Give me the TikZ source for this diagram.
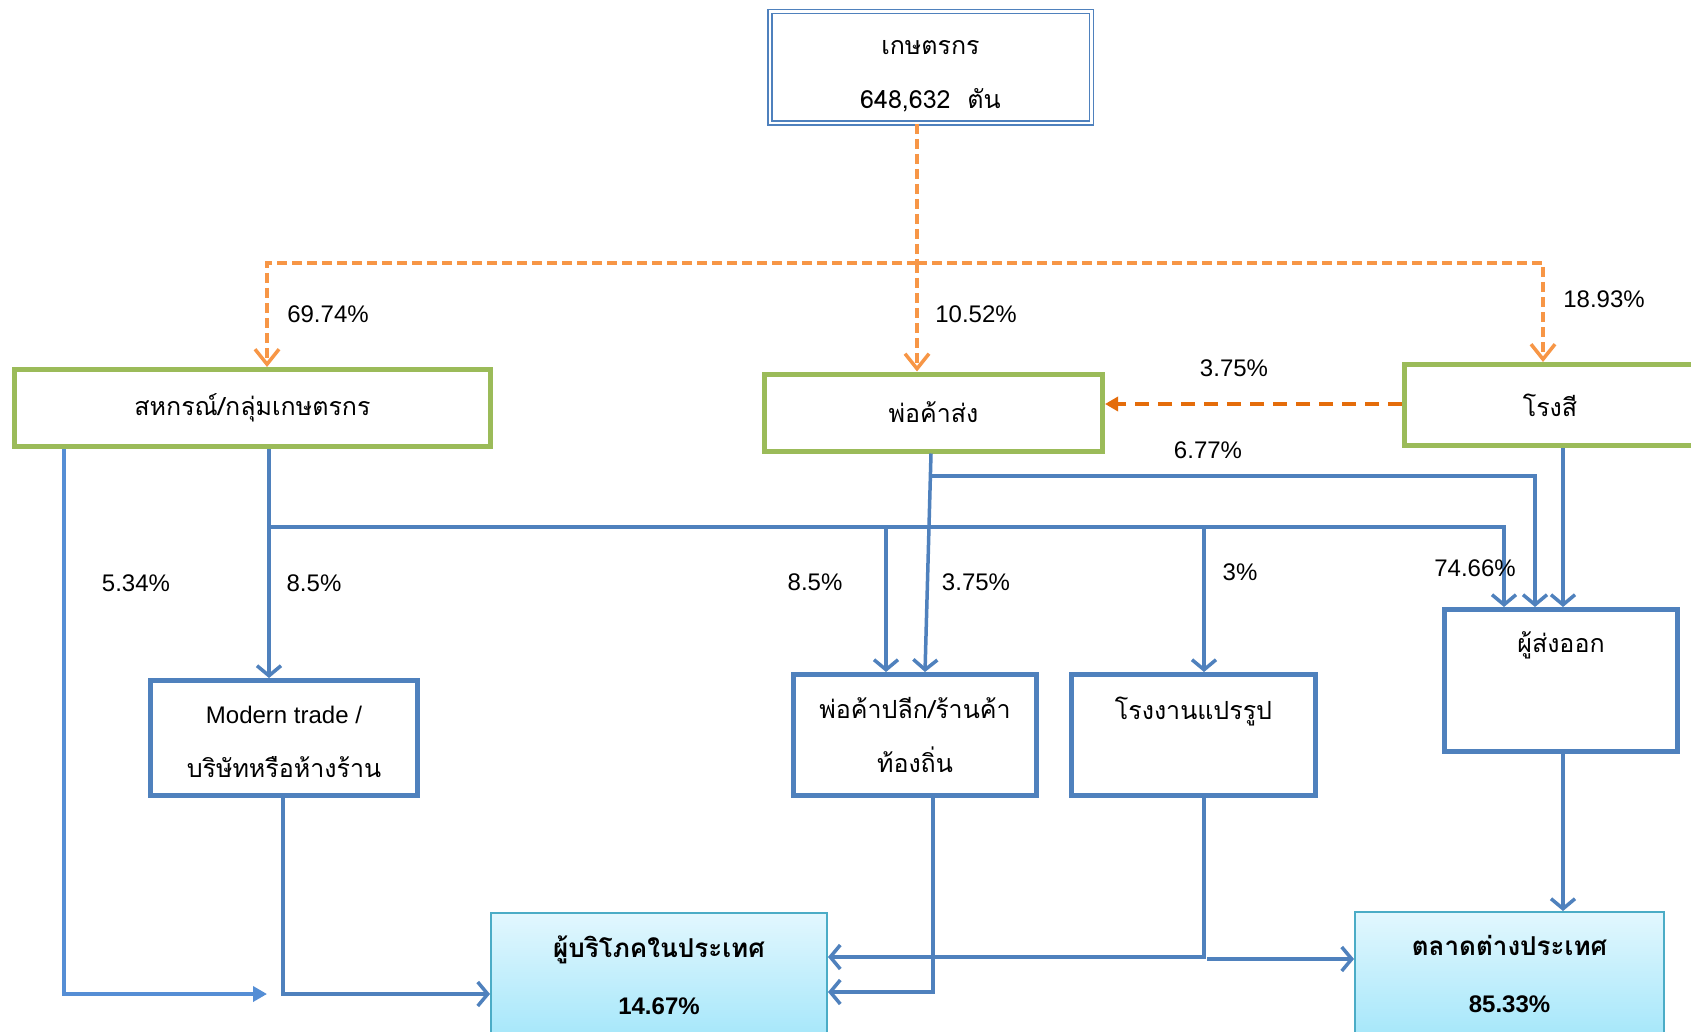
\documentclass[tikz,border=0pt]{standalone}
\usepackage{fontspec}
\setmainfont{Liberation Sans}
\newfontfamily\thai[Script=Thai]{Loma}
\usetikzlibrary{arrows.meta}
\definecolor{gbox}{HTML}{9BBB59}
\definecolor{bbox}{HTML}{4F81BD}
\definecolor{lblue}{HTML}{558ED5}
\definecolor{orl}{HTML}{F79646}
\definecolor{ord}{HTML}{E46C0A}
\definecolor{cyb}{HTML}{4BACC6}
\definecolor{cyt}{HTML}{E2F7FE}
\definecolor{cyd}{HTML}{A6E7FA}
\begin{document}
\begin{tikzpicture}[x=1pt,y=-1pt,
  thaitxt/.style={font=\thai\fontsize{25}{54}\selectfont, align=center, inner sep=0pt},
  greenbox/.style={draw=gbox, line width=5pt, fill=white, thaitxt},
  bluebox/.style={draw=bbox, line width=5pt, fill=white, thaitxt},
  endbox/.style={draw=cyb, line width=2pt, top color=cyt, bottom color=cyd, align=center, inner sep=0pt,
     font=\bfseries\fontsize{24}{57}\selectfont},
  pct/.style={font=\fontsize{24}{28}\selectfont, inner sep=0pt},
  odash/.style={draw=orl, line width=4pt, dash pattern=on 10pt off 5pt},
  oarrow/.style={-{Straight Barb[length=15pt,width=24pt,line width=3.5pt]}},
  flow/.style={draw=bbox, line width=3.5pt},
  barb/.style={-{Straight Barb[length=10pt,width=24pt]}}
]
\clip (0,0) rectangle (1691,1032);
\fill[white] (0,0) rectangle (1691,1032);

% nodes
\node[draw=bbox, line width=1.5pt, double, double distance=2.5pt, fill=white,
      minimum width=321.5pt, minimum height=111.5pt,
      label={[thaitxt, yshift=-9pt]center:เกษตรกร\\648,632\ \ ตัน}] (farmer) at (930.5,67.5) {};
\node[greenbox, minimum width=476pt, minimum height=77pt] (coop) at (252.5,408) {สหกรณ์/กลุ่มเกษตรกร};
\node[greenbox, minimum width=338pt, minimum height=77pt] (whole) at (933.5,412.5) {พ่อค้าส่ง};
\node[greenbox, minimum width=291pt, minimum height=81pt] (mill) at (1550,405) {โรงสี};

\node[bluebox, minimum width=267pt, minimum height=115pt,
  label={[thaitxt, yshift=-4pt]center:{\fontspec{Liberation Sans}\fontsize{24}{54}\selectfont Modern trade /}\\บริษัทหรือห้างร้าน}]
  (modern) at (284,738) {};
\node[bluebox, minimum width=243pt, minimum height=121pt] (retail) at (915,735) {พ่อค้าปลีก/ร้านค้า\\ท้องถิ่น};
\node[bluebox, minimum width=244pt, minimum height=121pt] (factory) at (1193.5,735) {โรงงานแปรรูป\\\mbox{}};
\node[bluebox, minimum width=233pt, minimum height=142pt] (exporter) at (1561,680.5)
  {ผู้ส่งออก\\[22pt]\mbox{}};

\node[endbox, minimum width=336pt, minimum height=124pt] (consumer) at (659,975)
  {{\thai\fontsize{26}{57}\selectfont ผู้บริโภคในประเทศ}\\14.67\%};
\node[endbox, minimum width=309pt, minimum height=124pt] (export) at (1509.5,974)
  {{\thai\fontsize{26}{57}\selectfont ตลาดต่างประเทศ}\\85.33\%};

% orange dashed distribution
\coordinate (jc) at (917,263);
\coordinate (jl) at (267,263);
\coordinate (jr) at (1543,263);
\draw[odash] (farmer.south -| jc) -- (jc);
\draw[odash, oarrow] (jc) -- (jl) -- (coop.north -| jl);
\draw[odash, oarrow] (jc) -- (jr) -- (mill.north -| jr);
\draw[odash, oarrow] (jc) -- (whole.north -| jc);
\coordinate (o1) at (1300,404);
\draw[draw=ord, line width=4pt, dash pattern=on 14pt off 9pt, -{Triangle[length=13pt,width=14pt]}]
  (mill.west |- o1) -- (whole.east |- o1);

% blue flows
\coordinate (c1) at (64,994);
\draw[flow, draw=lblue, -{Triangle[length=14pt,width=15pt]}]
  (coop.south -| c1) -- (c1) -- (267,994);
\coordinate (c2) at (269,527);
\draw[flow, barb] (coop.south -| c2) -- (modern.north -| c2);
\coordinate (c3) at (1504,527);
\draw[flow, barb] (c2) -- (c3) -- (exporter.north -| c3);
\coordinate (c4) at (886,527);
\draw[flow, barb] (c4) -- (retail.north -| c4);
\coordinate (c5) at (1204,527);
\draw[flow, barb] (c5) -- (factory.north -| c5);
\coordinate (w1) at (931,476);
\draw[flow, barb] (whole.south -| w1) -- (retail.north -| 925,0);
\coordinate (w2) at (1535,476);
\draw[flow, barb] (w1) -- (w2) -- (exporter.north -| w2);
\coordinate (m1) at (1563,448);
\draw[flow, barb] (mill.south -| m1) -- (exporter.north -| m1);

\coordinate (d1) at (283,994);
\draw[flow, barb] (modern.south -| d1) -- (d1) -- (consumer.west |- d1);
\coordinate (d2) at (933,992);
\draw[flow, barb] (retail.south -| d2) -- (d2) -- (consumer.east |- d2);
\coordinate (d3) at (1204,957);
\draw[flow, barb] (factory.south -| d3) -- (d3) -- (consumer.east |- d3);
\coordinate (d4) at (1207,959);
\draw[flow, barb] (d4) -- (export.west |- d4);
\draw[flow, barb] (exporter.south -| m1) -- (export.north -| m1);

% labels
\node[pct] (l1) at (328,314) {69.74\%};
\node[pct] (l2) at (976,314) {10.52\%};
\node[pct] (l3) at (1604,299) {18.93\%};
\node[pct] (l4) at (1234,368) {3.75\%};
\node[pct] (l5) at (1208,450) {6.77\%};
\node[pct] (l6) at (136,583) {5.34\%};
\node[pct] (l7) at (314,583) {8.5\%};
\node[pct] (l8) at (815,582) {8.5\%};
\node[pct] (l9) at (976,582) {3.75\%};
\node[pct] (l10) at (1240,572) {3\%};
\node[pct] (l11) at (1475,568) {74.66\%};
\end{tikzpicture}
\end{document}
